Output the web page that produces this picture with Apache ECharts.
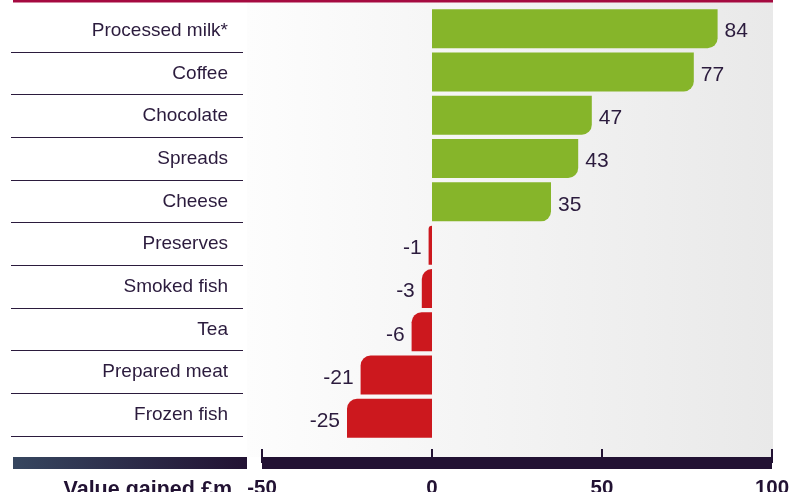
<!DOCTYPE html>
<html>
<head>
    <meta charset="utf-8">
    <title>Value gained</title>
    <script src="https://cdn.jsdelivr.net/npm/echarts@6/dist/echarts.min.js"></script>
    <style>
        html, body { margin: 0; padding: 0; background: #fff; }
        #chartmain { width: 793px; height: 492px; }
    </style>
</head>
<body>
    <div id="chartmain"></div>
<script type="text/javascript">
    // 数据
    var categories = ['Processed milk*', 'Coffee', 'Chocolate', 'Spreads', 'Cheese',
                      'Preserves', 'Smoked fish', 'Tea', 'Prepared meat', 'Frozen fish'];
    var values = [84, 77, 47, 43, 35, -1, -3, -6, -21, -25];
    var axisMin = -50, axisMax = 100, axisStep = 50;
    var axisTitle = 'Value gained £m';

    var ink = '#2b1b3d';
    var font = 'Liberation Sans, Arial, sans-serif';

    var barData = values.map(function (v) {
        return {
            value: v,
            itemStyle: v >= 0
                ? { color: '#86b52a', borderRadius: [0, 0, 10, 0] }
                : { color: '#cc181e', borderRadius: [10, 0, 0, 0] },
            label: { position: v >= 0 ? 'right' : 'left' }
        };
    });

    var myChart = echarts.init(document.getElementById('chartmain'));
    myChart.setOption({
        animation: false,
        textStyle: { fontFamily: font },
        graphic: [
            { type: 'rect', z: -10, shape: { x: 247, y: 2, width: 526, height: 455 },
              style: { fill: new echarts.graphic.LinearGradient(0, 0, 1, 0, [
                  { offset: 0, color: '#fdfdfd' }, { offset: 1, color: '#e9e9e9' }]) } },
            { type: 'rect', shape: { x: 13, y: 0, width: 760, height: 2.5 },
              style: { fill: '#a50a40' } },
            { type: 'rect', shape: { x: 13, y: 457, width: 234, height: 12 },
              style: { fill: new echarts.graphic.LinearGradient(0, 0, 1, 0, [
                  { offset: 0, color: '#36465f' }, { offset: 1, color: '#221233' }]) } },
            { type: 'text', x: 232, y: 490,
              style: { text: axisTitle, align: 'right', verticalAlign: 'middle',
                       font: 'bold 21.5px ' + font, fill: '#221233' } }
        ],
        grid: [
            { left: 262, right: 21, top: 7, height: 433, outerBoundsMode: 'none' },      // bars
            { left: 11, width: 232, top: 52, height: 384, outerBoundsMode: 'none' },     // separator lines
            { left: 11, width: 232, top: 9.33, height: 426.67, outerBoundsMode: 'none' } // category labels
        ],
        xAxis: [{
            type: 'value',
            min: axisMin, max: axisMax, interval: axisStep,
            offset: 23,
            axisLine: { show: true, lineStyle: { color: '#221233', width: 12, cap: 'butt' } },
            axisTick: { show: true, inside: true, length: 14, lineStyle: { color: '#221233', width: 2 } },
            axisLabel: { margin: 15, fontSize: 20.5, fontWeight: 'bold', color: '#221233' },
            splitLine: { show: false }
        }, {
            gridIndex: 1, type: 'value', show: false
        }, {
            gridIndex: 2, type: 'value', show: false
        }],
        yAxis: [{
            type: 'category',
            data: categories,
            inverse: true,
            axisLine: { show: false },
            axisTick: { show: false },
            axisLabel: { show: false }
        }, {
            gridIndex: 1, type: 'value',
            min: 0, max: 9, interval: 1,
            axisLine: { show: false },
            axisTick: { show: false },
            axisLabel: { show: false },
            splitLine: { show: true, lineStyle: { color: ink, width: 1 } }
        }, {
            gridIndex: 2, type: 'category',
            data: categories,
            inverse: true,
            position: 'right',
            axisLine: { show: false },
            axisTick: { show: false },
            splitLine: { show: false },
            axisLabel: { inside: true, margin: 15, fontSize: 19, color: ink }
        }],
        series: [{
            type: 'bar',
            data: barData,
            barWidth: 39,
            label: { show: true, distance: 7, fontSize: 21, color: ink, offset: [0, 3] }
        }]
    });
</script>
</body>
</html>
